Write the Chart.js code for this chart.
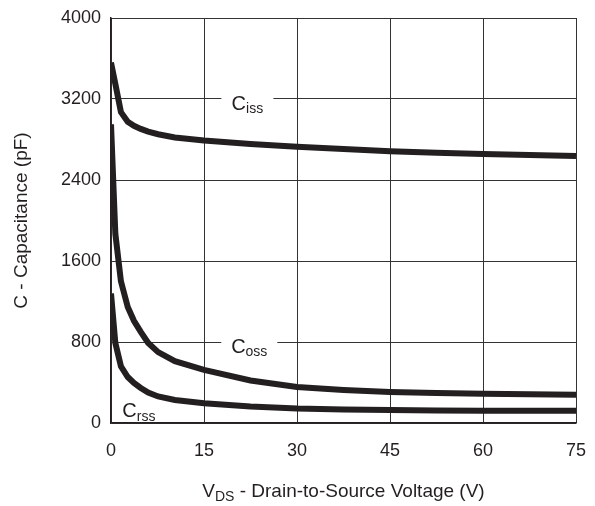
<!DOCTYPE html>
<html lang="en">
<head>
  <meta charset="UTF-8">
  <title>Capacitance vs. Drain-to-Source Voltage</title>
  <script src="https://cdn.jsdelivr.net/npm/chart.js"></script>
  <style>
    html, body { margin: 0; padding: 0; background: #fff; }
    #wrap { width: 595px; height: 506px; }
  </style>
</head>
<body>
  <div id="wrap"><canvas id="chart" width="595" height="506"></canvas></div>

  <script>
    // values
    const vds = [0, 0.7, 1.6, 2.7, 3.7, 4.8, 6, 7.6, 10.3, 15, 22.5, 30, 37.5, 45, 52.5, 60, 67.5, 75];
    const ciss = [3560, 3350, 3070, 2975, 2935, 2905, 2878, 2852, 2820, 2790, 2756, 2729, 2705, 2683, 2670, 2657, 2647, 2637];
    const coss = [2950, 1870, 1400, 1146, 1010, 900, 790, 700, 610, 525, 420, 355, 326, 306, 296, 289, 284, 280];
    const crss = [1280, 790, 560, 454, 395, 346, 300, 262, 228, 196, 163, 143, 134, 128, 124, 121, 120, 120];

    const xTicks = [0, 15, 30, 45, 60, 75];
    const yTicks = [0, 800, 1600, 2400, 3200, 4000];

    const INK = '#231f20';
    const FONT = '"Liberation Sans", Arial, sans-serif';

    function curve(label, ys) {
      return {
        label: label,
        data: vds.map((v, i) => ({ x: v, y: ys[i] })),
        borderColor: INK,
        borderWidth: 6,
        pointRadius: 0,
        tension: 0,
        fill: false
      };
    }

    // faint hatching on top of the thick trace, like the scanned original
    function hatch(label, ys) {
      const d = curve(label + ' hatch', ys);
      d.borderColor = 'rgba(120,120,120,0.45)';
      d.borderWidth = 4.5;
      d.borderDash = [1, 3.6];
      d.borderCapStyle = 'butt';
      return d;
    }

    function subWidth(ctx, main, sub, size) {
      ctx.font = size + 'px ' + FONT;
      const w1 = ctx.measureText(main).width;
      ctx.font = Math.round(size * 0.72) + 'px ' + FONT;
      return [w1, ctx.measureText(sub).width];
    }

    function subText(ctx, main, sub, x0, y, size) {
      const w = subWidth(ctx, main, sub, size);
      ctx.textAlign = 'left';
      ctx.textBaseline = 'middle';
      ctx.font = size + 'px ' + FONT;
      ctx.fillText(main, x0, y);
      ctx.font = Math.round(size * 0.72) + 'px ' + FONT;
      ctx.fillText(sub, x0 + w[0], y + size * 0.28);
      return w[0] + w[1];
    }

    const curveLabels = [
      { main: 'C', sub: 'iss', v: 22.0, c: 3200, gap: 52 },
      { main: 'C', sub: 'oss', v: 22.3, c: 800, gap: 56 },
      { main: 'C', sub: 'rss', v: 4.5, c: 160, gap: 0 }
    ];

    const textPlugin = {
      id: 'textPlugin',
      afterDraw(chart) {
        const ctx = chart.ctx;
        const xs = chart.scales.x, ys = chart.scales.y;
        const area = chart.chartArea;
        ctx.save();
        ctx.fillStyle = INK;

        curveLabels.forEach(l => {
          const px = xs.getPixelForValue(l.v);
          const py = ys.getPixelForValue(l.c);
          if (l.gap) {
            ctx.fillStyle = '#fff';
            ctx.fillRect(px - l.gap / 2, py - 2, l.gap, 4);
            ctx.fillStyle = INK;
          }
          const w = subWidth(ctx, l.main, l.sub, 20);
          subText(ctx, l.main, l.sub, px - (w[0] + w[1]) / 2, py + 5, 20);
        });

        // x axis title
        const cx = (area.left + area.right) / 2;
        const rest = ' - Drain-to-Source Voltage (V)';
        const w = subWidth(ctx, 'V', 'DS', 19);
        ctx.font = '19px ' + FONT;
        const wR = ctx.measureText(rest).width;
        const x0 = cx - (w[0] + w[1] + wR) / 2;
        subText(ctx, 'V', 'DS', x0, 492, 19);
        ctx.font = '19px ' + FONT;
        ctx.fillText(rest, x0 + w[0] + w[1], 492);

        // y axis title
        ctx.translate(22, (area.top + area.bottom) / 2);
        ctx.rotate(-Math.PI / 2);
        ctx.textAlign = 'center';
        ctx.fillText('C - Capacitance (pF)', 0, 0);
        ctx.restore();
      }
    };

    new Chart(document.getElementById('chart'), {
      type: 'line',
      data: {
        datasets: [
          curve('Ciss', ciss), curve('Coss', coss), curve('Crss', crss),
          hatch('Ciss', ciss), hatch('Coss', coss), hatch('Crss', crss)
        ]
      },
      options: {
        responsive: false,
        animation: false,
        layout: { padding: { top: 18, right: 19, left: 0, bottom: 0 } },
        plugins: { legend: { display: false }, tooltip: { enabled: false } },
        scales: {
          x: {
            type: 'linear',
            min: 0,
            max: 75,
            afterBuildTicks: s => { s.ticks = xTicks.map(v => ({ value: v })); },
            afterFit: s => { s.height = 83; s.paddingLeft = 0; s.paddingRight = 0; },
            ticks: { color: INK, font: { family: FONT, size: 18 }, padding: 17, maxRotation: 0,
                     callback: v => String(v) },
            grid: { color: '#333', lineWidth: 1, drawTicks: false },
            border: { color: INK, width: 1.5 }
          },
          y: {
            min: 0,
            max: 4000,
            afterBuildTicks: s => { s.ticks = yTicks.map(v => ({ value: v })); },
            afterFit: s => { s.width = 111; s.paddingTop = 0; s.paddingBottom = 0; },
            ticks: { color: INK, font: { family: FONT, size: 18 }, padding: 10,
                     callback: v => String(v) },
            grid: { color: '#333', lineWidth: 1, drawTicks: false },
            border: { color: INK, width: 1.5 }
          }
        }
      },
      plugins: [textPlugin]
    });
  </script>
</body>
</html>
